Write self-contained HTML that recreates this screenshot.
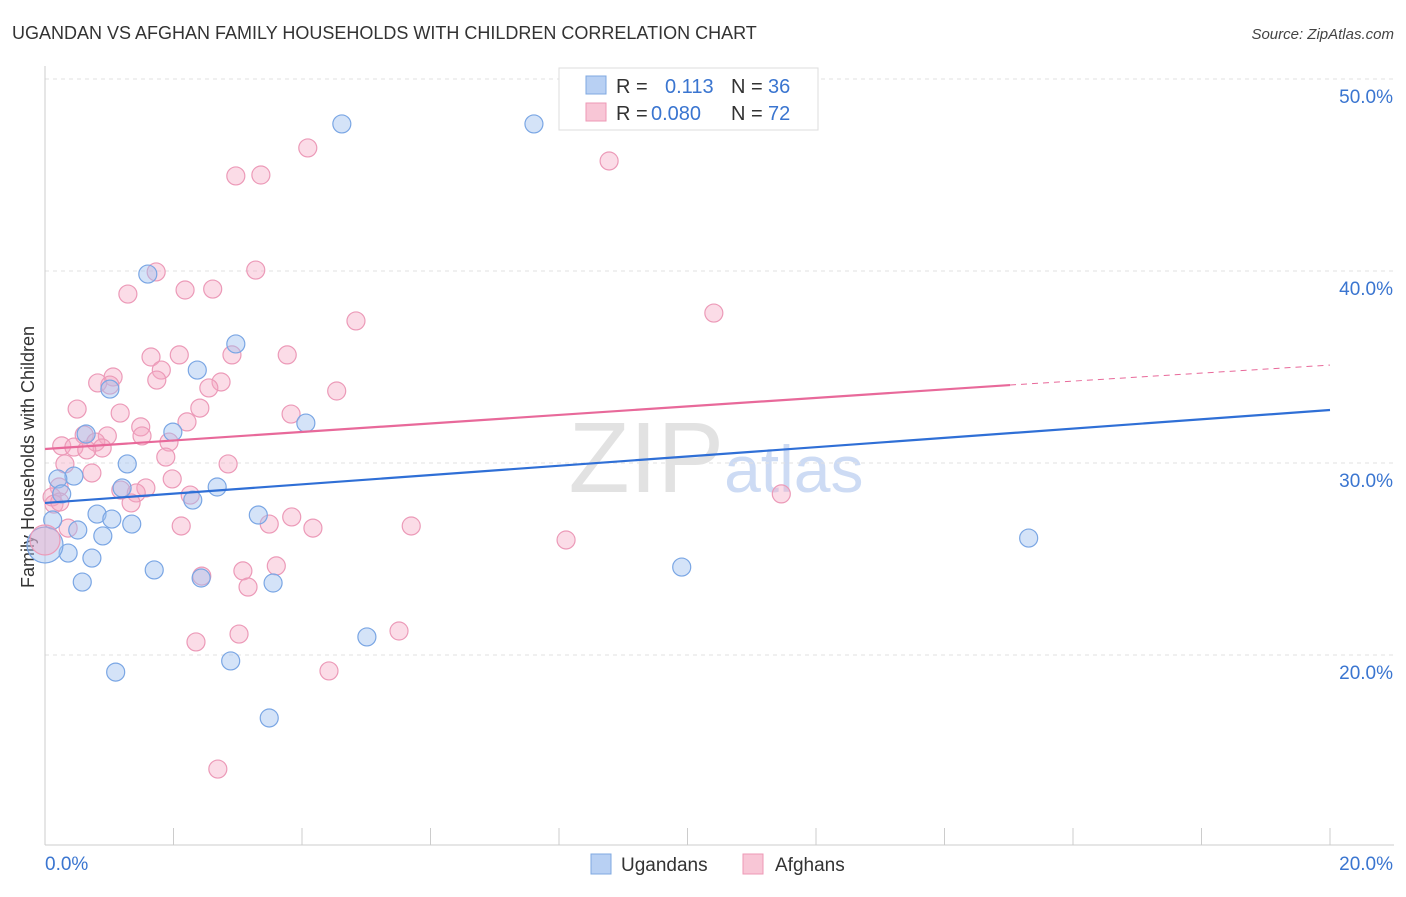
<!DOCTYPE html>
<html><head><meta charset="utf-8"><style>
body{margin:0;background:#fff;width:1406px;height:892px;overflow:hidden;font-family:"Liberation Sans",sans-serif;}
svg text{font-family:"Liberation Sans",sans-serif;}
</style></head><body>
<svg id="chart" width="1406" height="892" xmlns="http://www.w3.org/2000/svg">
<text x="12" y="39" font-size="18" fill="#333">UGANDAN VS AFGHAN FAMILY HOUSEHOLDS WITH CHILDREN CORRELATION CHART</text>
<text x="1394" y="39" font-size="15" fill="#444" text-anchor="end" font-style="italic">Source: ZipAtlas.com</text>
<text transform="translate(34,457) rotate(-90)" font-size="18" fill="#333" text-anchor="middle">Family Households with Children</text>
<text x="716" y="492" font-size="100" text-anchor="middle" fill="#d6d6d6" opacity="0.7" font-family="Liberation Serif">ZIP<tspan fill="#b8cdf0" font-family="Liberation Sans" font-size="66">atlas</tspan></text>
<g id="grid"></g><g id="axes"></g><g id="pts"></g><g id="lines"></g>
<g>
<rect x="559" y="68" width="259" height="62" fill="#fff" stroke="#ddd"/>
<rect x="586" y="76" width="20" height="18" fill="#b8d0f3" stroke="#7fa8e0"/>
<rect x="586" y="103" width="20" height="18" fill="#f8c6d6" stroke="#ee98b6"/>
<text x="616" y="93" font-size="20" fill="#333">R =</text><text x="665" y="93" font-size="20" fill="#3a75d0">0.113</text>
<text x="731" y="93" font-size="20" fill="#333">N =</text><text x="768" y="93" font-size="20" fill="#3a75d0">36</text>
<text x="616" y="120" font-size="20" fill="#333">R =</text><text x="651" y="120" font-size="20" fill="#3a75d0">0.080</text>
<text x="731" y="120" font-size="20" fill="#333">N =</text><text x="768" y="120" font-size="20" fill="#3a75d0">72</text>
</g>
<g>
<rect x="591" y="854" width="20" height="20" fill="#b8d0f3" stroke="#7fa8e0"/>
<text x="621" y="871" font-size="19" fill="#333">Ugandans</text>
<rect x="743" y="854" width="20" height="20" fill="#f8c6d6" stroke="#ee98b6"/>
<text x="775" y="871" font-size="19" fill="#333">Afghans</text>
</g>
</svg>
<script>
const yTicks=[20,30,40,50];
const xTickLabels=["0.0%","20.0%"];
const blueX=[4.62,7.61,1.60,2.97,2.37,1.01,4.06,1.99,0.64,1.28,0.45,0.20,0.26,1.20,2.68,2.30,0.81,1.04,3.32,1.35,0.51,0.90,0.12,0.36,0.73,1.70,0.58,2.43,3.55,9.91,15.31,5.01,2.89,1.10,3.49];
const blueY=[47.66,47.66,39.84,36.2,34.84,33.85,32.08,31.61,31.51,29.95,29.32,29.17,28.39,28.70,28.75,28.07,27.34,27.08,27.29,26.82,26.51,26.20,27.03,25.31,25.05,24.43,23.8,24.01,23.75,24.58,26.09,20.94,19.69,19.11,16.72];
const pinkX=[4.09,8.78,2.97,3.36,3.28,1.73,2.18,2.61,1.29,10.41,4.84,1.65,2.09,2.91,3.77,1.81,1.06,1.74,0.82,2.74,2.55,4.54,1.01,2.41,1.17,0.50,3.83,2.21,1.49,0.61,0.97,1.51,0.26,0.45,0.79,0.89,1.93,1.88,0.31,2.85,0.73,1.98,0.22,0.11,1.57,1.18,1.42,2.26,0.14,1.34,11.46,0.36,2.12,3.84,3.49,4.17,5.70,8.11,3.08,3.60,2.44,3.16,3.02,5.51,2.35,4.42,2.69,0.23,0.65];
const pinkY=[46.41,45.73,44.95,45.0,40.05,39.95,39.01,39.06,38.80,37.81,37.40,35.52,35.63,35.63,35.63,34.84,34.48,34.32,34.17,34.22,33.91,33.75,34.06,32.86,32.60,32.81,32.55,32.14,31.88,31.46,31.41,31.41,30.89,30.83,31.09,30.78,31.09,30.31,29.95,29.95,29.48,29.17,28.75,28.23,28.70,28.59,28.44,28.33,27.86,27.92,28.39,26.61,26.72,27.19,26.82,26.61,26.72,25.99,24.38,24.64,24.11,23.54,21.09,21.25,20.68,19.17,14.06,27.97,30.68];
const bigBlue=[0,25.73], bigPink=[0,25.99];
const blueTrend=[[0,27.92],[20,32.76]];
const pinkTrend=[[0,30.73],[15.02,34.06]];
const pinkTrendExt=[[15.02,34.06],[20,35.1]];

const NS="http://www.w3.org/2000/svg";
const X=v=>45+v*1285/20, Y=v=>79+(50-v)*19.2;
function mk(p,tag,a){const e=document.createElementNS(NS,tag);for(const k in a)e.setAttribute(k,a[k]);p.appendChild(e);return e;}
const grid=document.getElementById('grid'),axes=document.getElementById('axes'),pts=document.getElementById('pts'),lines=document.getElementById('lines');
yTicks.forEach(t=>{
 const g=mk(grid,'line',{x1:45,x2:1394,y1:Y(t),y2:Y(t),stroke:'#e2e2e2','stroke-dasharray':'4,4'});
 
 
 const l=mk(axes,'text',{x:1393,y:Y(t)+24,'font-size':19,fill:'#3a75d0','text-anchor':'end'});l.textContent=t.toFixed(1)+'%';
 
 
});
const ya=mk(axes,'line',{x1:45,x2:45,y1:66,y2:845,stroke:'#ccc'});


const xa=mk(axes,'line',{x1:45,x2:1394,y1:845,y2:845,stroke:'#ccc'});


for(let i=0;i<=10;i++){const t=mk(axes,'line',{x1:X(i*2),x2:X(i*2),y1:828,y2:845,stroke:'#ccc'});
 
 }
const xl0=mk(axes,'text',{x:45,y:870,'font-size':19,fill:'#3a75d0'});xl0.textContent=xTickLabels[0];


const xl1=mk(axes,'text',{x:1393,y:870,'font-size':19,fill:'#3a75d0','text-anchor':'end'});xl1.textContent=xTickLabels[1];


function dot(x,y,r,blue){const c=mk(pts,'circle',{cx:X(x),cy:Y(y),r:r,fill:blue?'rgba(160,194,240,0.45)':'rgba(244,168,194,0.4)',stroke:blue?'#7aa6e4':'#ec9ab8','stroke-width':1.2});return c;}
pinkX.forEach((x,i)=>{const c=dot(x,pinkY[i],9,false);
 
 });
blueX.forEach((x,i)=>{const c=dot(x,blueY[i],9,true);
 
 });
const bb=dot(bigBlue[0],bigBlue[1],18,true);


const bp=dot(bigPink[0],bigPink[1],15,false);


function ln(p,col,dash,name){const e=mk(lines,'line',{x1:X(p[0][0]),y1:Y(p[0][1]),x2:X(p[1][0]),y2:Y(p[1][1]),stroke:col,'stroke-width':dash?1:2.2});if(dash)e.setAttribute('stroke-dasharray','6,5');
 
 }
ln(blueTrend,'#2f6fd6',false,'ugandan-trend-line');
ln(pinkTrend,'#e8699a',false,'afghan-trend-line');
ln(pinkTrendExt,'#e8699a',true,'afghan-trend-extension');
</script>
</body></html>
